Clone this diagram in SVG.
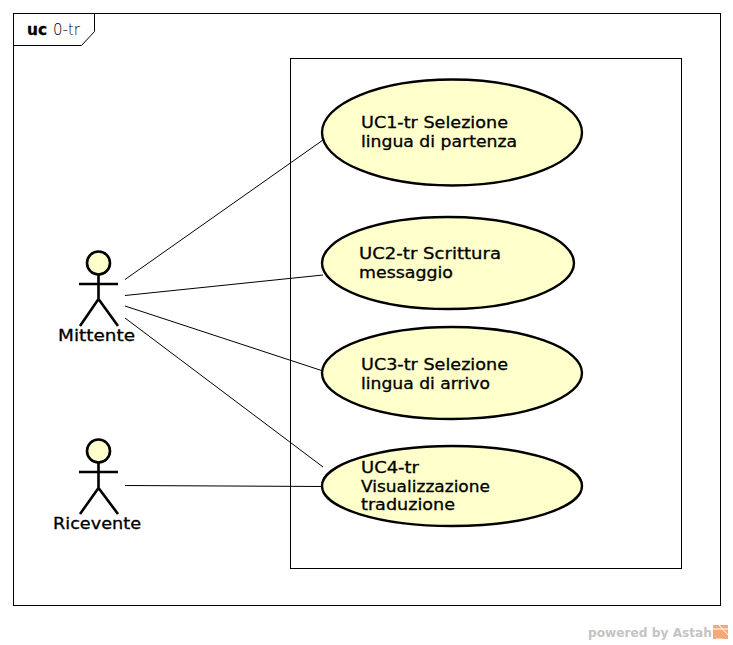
<svg xmlns="http://www.w3.org/2000/svg" width="733" height="645" viewBox="0 0 733 645">
<style>
text{font-family:"DejaVu Sans",sans-serif;font-size:15.5px;fill:#000;stroke:#000;stroke-width:.3}
.frame{fill:none;stroke:#000;stroke-width:1}
.uc{fill:#ffffcc;stroke:#000;stroke-width:2.4}
.head{fill:#ffffcc;stroke:#000;stroke-width:2.6}
.body{fill:none;stroke:#000;stroke-width:2.6}
.conn{fill:none;stroke:#000;stroke-width:1}
</style>
<rect width="733" height="645" fill="#fff"/>
<g id="frame">
<rect class="frame" x="13.500" y="13.500" width="707" height="592"/>
<path class="frame" d="M13.500 45.500H81.500L94.500 31.500V13.500"/>
<text x="27" y="35" style="font-size:15px;font-weight:bold" textLength="20" lengthAdjust="spacingAndGlyphs">uc</text>
<text x="53" y="35" style="font-size:15px;font-weight:200;stroke:none" textLength="27" lengthAdjust="spacingAndGlyphs">0-tr</text>
</g>
<g id="boundary"><rect class="frame" x="290.500" y="58.500" width="391" height="510"/></g>
<g id="connectors">
<line class="conn" x1="125" y1="279.500" x2="323" y2="140"/>
<line class="conn" x1="125" y1="295.500" x2="323" y2="275"/>
<line class="conn" x1="125" y1="306" x2="323" y2="371"/>
<line class="conn" x1="125" y1="318" x2="323" y2="467"/>
<line class="conn" x1="125" y1="485.500" x2="323" y2="486.500"/>
</g>
<g id="mittente">
<circle class="head" cx="98.500" cy="263" r="11.500"/>
<path class="body" d="M98.500 275V299M79 284H118M80 326L98.500 299L118 326"/>
<text x="58" y="341" textLength="77" lengthAdjust="spacingAndGlyphs">Mittente</text>
</g>
<g id="ricevente">
<circle class="head" cx="98.500" cy="451" r="11.500"/>
<path class="body" d="M98.500 463V488M79 472H118M80 514L98.500 488L118 514"/>
<text x="53" y="529" textLength="88" lengthAdjust="spacingAndGlyphs">Ricevente</text>
</g>
<g id="uc1"><ellipse class="uc" cx="452" cy="132.500" rx="130" ry="53"/><text x="361" y="128" textLength="147" lengthAdjust="spacingAndGlyphs">UC1-tr Selezione</text><text x="361" y="147" textLength="156" lengthAdjust="spacingAndGlyphs">lingua di partenza</text></g>
<g id="uc2"><ellipse class="uc" cx="448" cy="263" rx="126" ry="46"/><text x="359" y="259" textLength="142" lengthAdjust="spacingAndGlyphs">UC2-tr Scrittura</text><text x="359" y="278" textLength="94" lengthAdjust="spacingAndGlyphs">messaggio</text></g>
<g id="uc3"><ellipse class="uc" cx="452" cy="373" rx="130" ry="46"/><text x="361" y="370" textLength="147" lengthAdjust="spacingAndGlyphs">UC3-tr Selezione</text><text x="361" y="389" textLength="129" lengthAdjust="spacingAndGlyphs">lingua di arrivo</text></g>
<g id="uc4"><ellipse class="uc" cx="452" cy="486" rx="130" ry="40"/><text x="361" y="473" textLength="58" lengthAdjust="spacingAndGlyphs">UC4-tr</text><text x="361" y="492" textLength="129" lengthAdjust="spacingAndGlyphs">Visualizzazione</text><text x="361" y="510" textLength="94" lengthAdjust="spacingAndGlyphs">traduzione</text></g>
<g id="logo">
<text x="588" y="637" textLength="124" lengthAdjust="spacingAndGlyphs" style="font-size:12px;font-weight:bold;fill:#c4c4c4;stroke:none">powered by Astah</text>
<rect x="713" y="625" width="15" height="14" fill="#f4a97c"/>
<path d="M713 629H728M719 625L728 635M716 639H722" stroke="#fff" fill="none"/>
</g>
</svg>
